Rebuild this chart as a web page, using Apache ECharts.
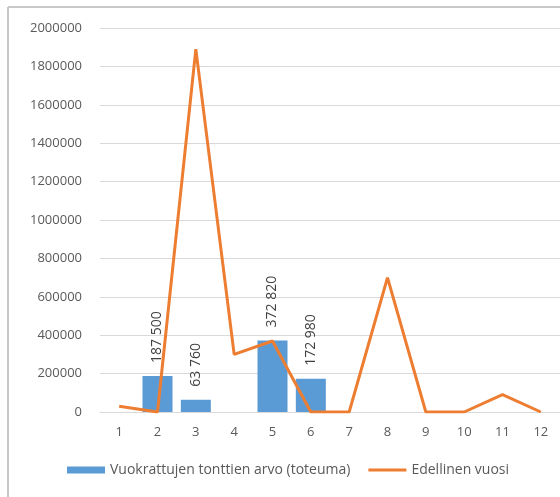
<!DOCTYPE html>
<html><head><meta charset="utf-8">
<script src="https://cdn.jsdelivr.net/npm/echarts@6/dist/echarts.min.js"></script>
<style>html,body{margin:0;padding:0;background:#fff}#c{width:560px;height:497px}</style>
</head><body><div id="c"></div>
<script>
const categories = ['1','2','3','4','5','6','7','8','9','10','11','12'];
const barValues = [null, 187500, 63760, null, 372820, 172980, null, null, null, null, null, null];
const lineValues = [30000, 0, 1890000, 300000, 370000, 0, 0, 700000, 0, 0, 90000, 0];
const barName = 'Vuokrattujen tonttien arvo (toteuma)';
const lineName = 'Edellinen vuosi';

const fmt = v => String(v).replace(/\B(?=(\d{3})+(?!\d))/g, ' ');
const FONT = 'Open Sans';
const chart = echarts.init(document.getElementById('c'), null, {renderer: 'canvas'});
chart.setOption({
  animation: false,
  backgroundColor: '#fff',
  textStyle: {fontFamily: FONT},
  grid: {left: 100, width: 467, top: 28, bottom: 85, containLabel: false},
  xAxis: {
    type: 'category', data: categories,
    axisLine: {lineStyle: {color: '#d9d9d9'}},
    axisTick: {show: false},
    axisLabel: {color: '#595959', fontSize: 13, margin: 14, fontFamily: FONT}
  },
  yAxis: {
    type: 'value', min: 0, max: 2000000, interval: 200000,
    axisLine: {show: false}, axisTick: {show: false},
    splitLine: {lineStyle: {color: '#d9d9d9'}},
    axisLabel: {color: '#595959', fontSize: 13, margin: 18, fontFamily: FONT, formatter: v => String(v)}
  },
  legend: {
    bottom: 15, left: 62, itemGap: 18,
    textStyle: {color: '#595959', fontSize: 14, fontFamily: FONT},
    data: [
      {name: barName, icon: 'rect', itemStyle: {color: '#5B9BD5'}},
      {name: lineName, icon: 'path://M0,0h0.01v0.01h-0.01zM0,2h40v3h-40zM0,6.99h0.01v0.01h-0.01z', itemStyle: {color: '#ED7D31'}}
    ],
    itemWidth: 38, itemHeight: 7
  },
  series: [
    {
      name: barName, type: 'bar', data: barValues, barWidth: 30,
      itemStyle: {color: '#5B9BD5'},
      label: {
        show: true, position: 'top', rotate: 90, align: 'left', verticalAlign: 'middle',
        distance: 13, color: '#404040', fontSize: 14, fontFamily: FONT,
        formatter: p => p.value == null ? '' : fmt(p.value)
      }
    },
    {
      name: lineName, type: 'line', data: lineValues, symbol: 'none',
      lineStyle: {color: '#ED7D31', width: 3}, itemStyle: {color: '#ED7D31'}
    }
  ],
  graphic: [
    {type: 'line', shape: {x1: 8, y1: 7, x2: 560, y2: 7}, style: {stroke: '#c8c8c8', lineWidth: 2}},
    {type: 'line', shape: {x1: 8, y1: 7, x2: 8, y2: 497}, style: {stroke: '#c8c8c8', lineWidth: 2}}
  ]
});
</script></body></html>
